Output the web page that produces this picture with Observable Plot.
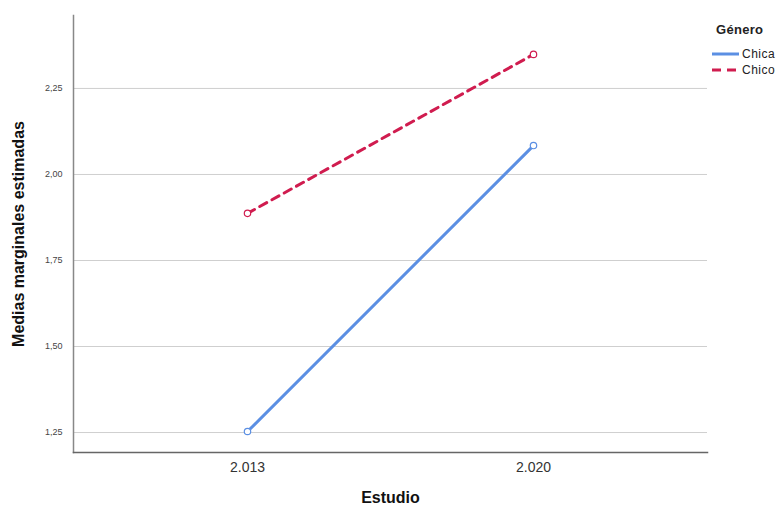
<!DOCTYPE html>
<html><head><meta charset="utf-8">
<script src="https://cdn.jsdelivr.net/npm/d3@7"></script>
<script src="https://cdn.jsdelivr.net/npm/@observablehq/plot@0.6"></script>
<style>
body{margin:0;background:#fff;font-family:"Liberation Sans",Arial,sans-serif;}
#wrap{position:relative;width:782px;height:508px;}
#legend{position:absolute;left:712px;top:22px;font-size:12px;color:#222;letter-spacing:0.5px;}
#legend .t{font-weight:bold;font-size:13px;margin-left:4px;margin-bottom:9px;letter-spacing:0.3px;}
#legend .r{display:flex;align-items:center;height:16px;}
</style>
</head><body>
<div id="wrap"><div id="chart"></div>
<div id="legend"></div></div>
<script>
const years = ["2.013", "2.020"];
const series = ["Chica", "Chico"];
const chicaValues = [1.253, 2.084];
const chicoValues = [1.887, 2.349];
const yTicks = [1.25, 1.50, 1.75, 2.00, 2.25];
const colors = ["#5b8fe3", "#d01c4f"];
const dashes = [null, "8,6"];

const data = [];
years.forEach((y, i) => {
  data.push({year: y, gen: "Chica", v: chicaValues[i]});
  data.push({year: y, gen: "Chico", v: chicoValues[i]});
});
const fmt = d => d.toFixed(2).replace(".", ",");

const plot = Plot.plot({
  width: 782, height: 508,
  marginLeft: 73, marginRight: 75, marginTop: 15, marginBottom: 56,
  style: {fontFamily: "Liberation Sans, Arial, sans-serif", background: "#fff"},
  x: {type: "point", domain: years, padding: 0.608, label: null},
  y: {domain: [1.192, 2.462], label: null},
  marks: [
    Plot.ruleY(yTicks, {stroke: "#cfcfcf", strokeWidth: 1}),
    Plot.axisY(yTicks, {tickSize: 0, tickPadding: 11, fontSize: 9, fill: "#444", tickFormat: fmt}),
    Plot.axisX({tickSize: 0, tickPadding: 10, fontSize: 14, fill: "#333", style: "letter-spacing:1px"}),
    Plot.frame({anchor: "left", stroke: "#888", strokeWidth: 1.5}),
    Plot.frame({anchor: "bottom", stroke: "#666", strokeWidth: 1.5}),
    ...series.map((s, i) => Plot.line(data.filter(d => d.gen === s), {
      x: "year", y: "v", stroke: colors[i], strokeWidth: 3, strokeDasharray: dashes[i]
    })),
    ...series.map((s, i) => Plot.dot(data.filter(d => d.gen === s), {
      x: "year", y: "v", stroke: colors[i], fill: "white", r: 3.2, strokeWidth: 1.2
    })),
    Plot.text(["Medias marginales estimadas"], {frameAnchor: "left", textAnchor: "middle", dx: -55, rotate: -90, fontSize: 16, fontWeight: "bold", fill: "#111"}),
    Plot.text(["Estudio"], {frameAnchor: "bottom", dy: 50, fontSize: 16, fontWeight: "bold", fill: "#111", style: "letter-spacing:1px"})
  ]
});
document.getElementById("chart").appendChild(plot);

const leg = document.getElementById("legend");
leg.innerHTML = '<div class="t">Género</div>' + series.map((s, i) =>
  `<div class="r"><svg width="28" height="8"><line x1="0" y1="4" x2="27" y2="4" stroke="${colors[i]}" stroke-width="3" ${dashes[i] ? `stroke-dasharray="9,6"` : ""}/></svg><span style="margin-left:2px">${s}</span></div>`
).join("");
</script>
</body></html>
